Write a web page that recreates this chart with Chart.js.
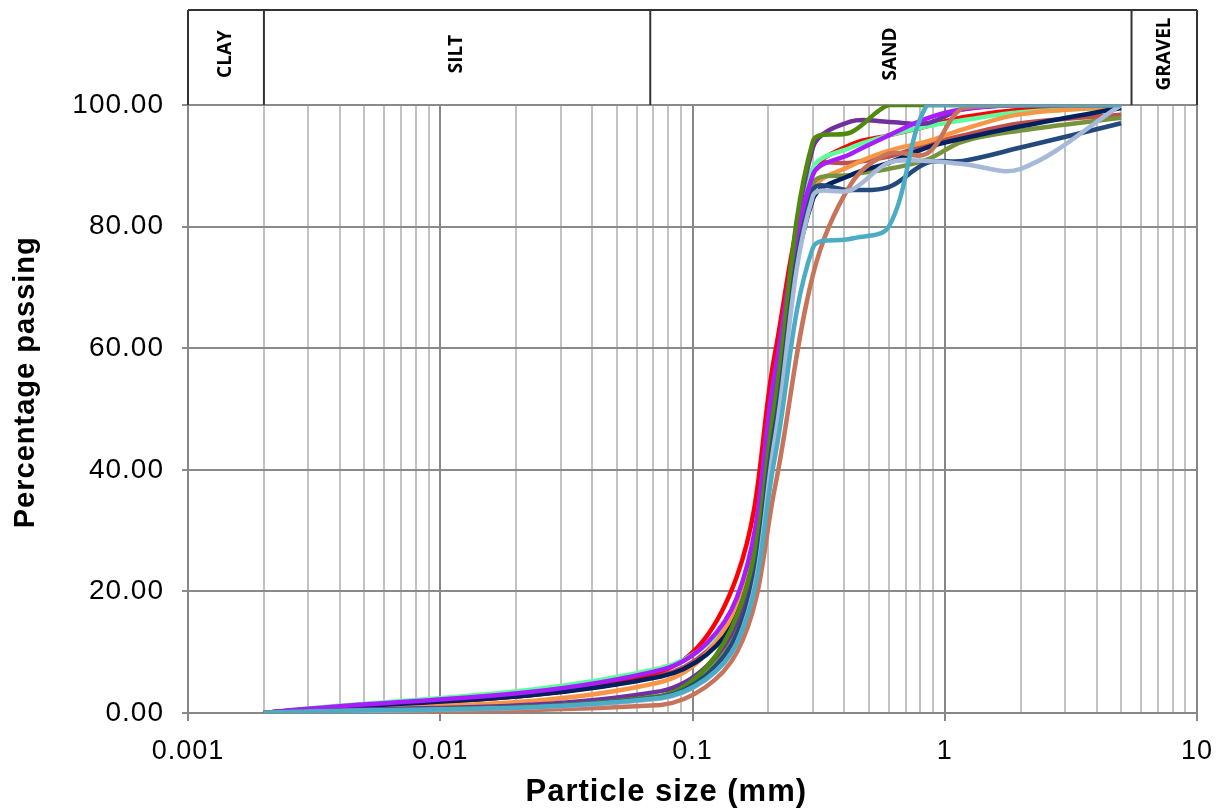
<!DOCTYPE html>
<html>
<head>
<meta charset="utf-8">
<script src="https://cdn.jsdelivr.net/npm/chart.js@4"></script>
<style>
  html, body { margin: 0; padding: 0; background: #fff; }
  #wrap { width: 1228px; height: 812px; }
</style>
</head>
<body>
<div id="wrap"><canvas id="gradingChart"></canvas></div>
<script>
// sieve / particle sizes (mm) used for every sample
const sizes = [0.002, 0.075, 0.15, 0.212, 0.3, 0.425, 0.6, 0.85, 1.18, 2, 5];

// percentage passing per sample
const lightBlue  = [0, 2.5, 11.5, 42, 76.5, 78, 80, 100, 100, 100, 100];
const lightSteel = [0, 2.4, 11.5, 45, 85, 86, 90.5, 90.8, 90.3, 89.5, 100];
const brown      = [0, 1.3, 10, 37, 72, 87, 92, 92, 99.5, 100, 100];
const steelBlue  = [0, 2.6, 13, 47, 86, 86, 86.5, 90.5, 90.8, 93, 97];
const green      = [0, 2.8, 16, 51, 94, 95.5, 100, 100, 100, 100, 100];
const violet     = [0, 7.1, 19, 56, 88.5, 92, 95, 97.8, 99.3, 100, 100];
const purple     = [0, 3.6, 15, 52, 93, 97.3, 97.2, 97, 99.3, 100, 100];
const navy       = [0, 6.0, 16, 51, 84.5, 88.5, 90.5, 93, 94.5, 96.5, 99.5];
const olive      = [0, 2.7, 14, 49, 87, 88.5, 89.5, 91, 94, 95.8, 97.9];
const orange     = [0, 5.1, 18, 55, 86, 90, 92.5, 94, 96, 98.5, 99.8];
const lightGreen = [0, 7.4, 18, 54, 89.5, 93, 95, 96.5, 97.5, 98.8, 99.6];
const red        = [0, 6.9, 22.5, 59, 89, 93.5, 95, 96.5, 98, 99.2, 100];
const indianRed  = [0, 6.2, 17, 53, 89.5, 90.5, 91.5, 93.5, 95, 97, 98.4];

// soil classes across the top
const bandNames = ["CLAY", "SILT", "SAND", "GRAVEL"];
const bandLimits = [0.002, 0.068, 5.5];

// axis labels
const xTickLabels = ["0.001", "0.01", "0.1", "1", "10"];
const yTicks = [0, 20, 40, 60, 80, 100];
const xTitle = "Particle size (mm)";
const yTitle = "Percentage passing";

const FONT = "'Liberation Sans', Arial, sans-serif";

function series(vals, color) {
  return {
    data: sizes.map((s, i) => ({ x: s, y: vals[i] })),
    borderColor: color,
    backgroundColor: color,
    borderWidth: 4.5,
    pointRadius: 0,
    tension: 0.35,
    fill: false,
  };
}

// grid lines at 1..9 x 10^n
function logGrid() {
  let out = [];
  for (let e = -3; e <= 0; e++) {
    for (let m = 1; m <= 9; m++) {
      out.push({ value: +(m * Math.pow(10, e)).toPrecision(3), major: m === 1 });
    }
  }
  out.push({ value: 10, major: true });
  return out;
}

// a little letter spacing for the axis text
const spacing = {
  id: "spacing",
  beforeDraw(chart) {
    chart.ctx.letterSpacing = "1px";
  },
};

// axis titles sit a bit off-centre in the original, so draw them here
const axisTitles = {
  id: "axisTitles",
  afterDraw(chart) {
    const { ctx, chartArea: a } = chart;
    ctx.save();
    ctx.letterSpacing = "1px";
    ctx.fillStyle = "#000";
    ctx.textAlign = "center";
    ctx.textBaseline = "middle";

    ctx.font = "bold 31px " + FONT;
    ctx.fillText(xTitle, a.left + (a.right - a.left) * 0.474, chart.height - 20);

    ctx.font = "bold 29px " + FONT;
    ctx.translate(25.5, a.top + (a.bottom - a.top) * 0.456);
    ctx.rotate(-Math.PI / 2);
    ctx.fillText(yTitle, 0, 0);
    ctx.restore();
  },
};

// CLAY / SILT / SAND / GRAVEL boxes above the plot
const soilBand = {
  id: "soilBand",
  afterDraw(chart) {
    const { ctx, chartArea: a, scales } = chart;
    const top = 10;
    const edges = [a.left, ...bandLimits.map((v) => scales.x.getPixelForValue(v)), a.right];
    ctx.save();
    ctx.letterSpacing = "0px";
    ctx.strokeStyle = "#333";
    ctx.lineWidth = 2;
    ctx.beginPath();
    ctx.moveTo(a.left, top);
    ctx.lineTo(a.right, top);
    edges.forEach((px) => {
      ctx.moveTo(px, top);
      ctx.lineTo(px, a.top);
    });
    ctx.stroke();

    ctx.fillStyle = "#000";
    ctx.font = "bold 19px 'Open Sans', sans-serif";
    ctx.textAlign = "center";
    ctx.textBaseline = "middle";
    bandNames.forEach((name, i) => {
      ctx.save();
      ctx.translate((edges[i] + edges[i + 1]) / 2, 54);
      ctx.rotate(-Math.PI / 2);
      ctx.fillText(name, 0, 0);
      ctx.restore();
    });
    ctx.restore();
  },
};

const ctx = document.getElementById("gradingChart");

new Chart(ctx, {
  type: "line",
  data: {
    datasets: [
      series(lightBlue, "#4bacc6"),
      series(lightSteel, "#a6b9d8"),
      series(brown, "#c7745a"),
      series(steelBlue, "#24497c"),
      series(green, "#4f8a0b"),
      series(violet, "#a81cff"),
      series(purple, "#7030a0"),
      series(navy, "#002060"),
      series(olive, "#77933c"),
      series(orange, "#f79646"),
      series(lightGreen, "#5cff9d"),
      series(red, "#ff0000"),
      series(indianRed, "#c0504d"),
    ],
  },
  options: {
    responsive: true,
    maintainAspectRatio: false,
    animation: false,
    layout: { padding: { top: 105, right: 31, left: 0, bottom: 0 } },
    plugins: {
      legend: { display: false },
      tooltip: { enabled: false },
    },
    scales: {
      x: {
        type: "logarithmic",
        min: 0.001,
        max: 10,
        afterBuildTicks: (scale) => {
          scale.ticks = logGrid();
        },
        afterFit: (scale) => {
          scale.height = 99;
        },
        grid: {
          color: (c) => (c.tick && c.tick.major ? "#878787" : "#c2c2c2"),
          tickColor: (c) => (c.tick && c.tick.major ? "#878787" : "rgba(0,0,0,0)"),
          lineWidth: 2,
          tickLength: 8,
        },
        border: { color: "#878787", width: 2 },
        ticks: {
          autoSkip: false,
          maxRotation: 0,
          padding: 14,
          color: "#000",
          font: { family: FONT, size: 27 },
          callback: function (value, index, ticks) {
            if (!ticks[index].major) return "";
            return xTickLabels[Math.round(Math.log10(value)) + 3];
          },
        },
        title: { display: false },
      },
      y: {
        min: 0,
        max: 100,
        afterBuildTicks: (scale) => {
          scale.ticks = yTicks.map((v) => ({ value: v }));
        },
        afterFit: (scale) => {
          scale.width = 188;
        },
        grid: { color: "#8a8a8a", lineWidth: 2, tickLength: 6 },
        border: { color: "#878787", width: 2 },
        ticks: {
          padding: 18,
          color: "#000",
          font: { family: FONT, size: 28 },
          callback: (v) => Number(v).toFixed(2),
        },
        title: { display: false },
      },
    },
  },
  plugins: [spacing, soilBand, axisTitles],
});
</script>
</body>
</html>
